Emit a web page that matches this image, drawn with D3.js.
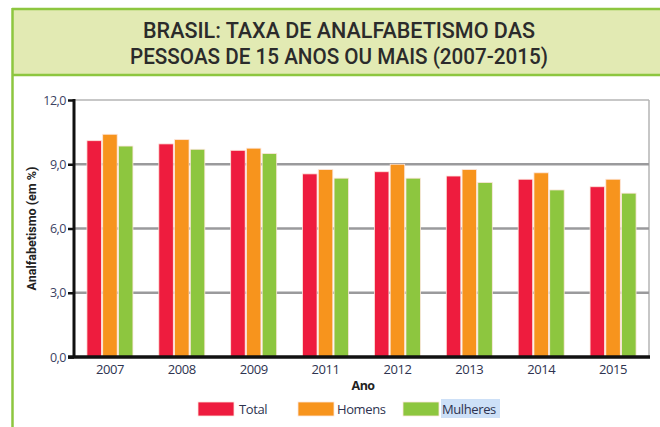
<!DOCTYPE html>
<html>
<head>
<meta charset="utf-8">
<script src="https://cdn.jsdelivr.net/npm/d3@7"></script>
<style>
  body { margin: 0; background: #fff; }
  svg { display: block; }
</style>
</head>
<body>
<script>
const years = ["2007", "2008", "2009", "2011", "2012", "2013", "2014", "2015"];
const total = [10.1, 9.95, 9.65, 8.55, 8.65, 8.45, 8.3, 7.95];
const homens = [10.4, 10.15, 9.75, 8.75, 9.0, 8.75, 8.6, 8.3];
const mulheres = [9.85, 9.7, 9.5, 8.35, 8.35, 8.15, 7.8, 7.65];
const yTicks = [0, 3, 6, 9, 12];
const seriesNames = ["Total", "Homens", "Mulheres"];
const colors = ["#ee1c3e", "#f7941d", "#8dc63f"];

const w = 660;
const h = 427;
const svg = d3.select("body").append("svg").attr("width", w).attr("height", h);

// header box
svg.append("rect").attr("x", 12).attr("y", 9).attr("width", w - 12).attr("height", 67)
  .attr("fill", "#e2eab3");
svg.append("line").attr("x1", 12).attr("x2", w).attr("y1", 9).attr("y2", 9)
  .attr("stroke", "#8dc63f").attr("stroke-width", 2.5);
svg.append("line").attr("x1", 12).attr("x2", w).attr("y1", 75).attr("y2", 75)
  .attr("stroke", "#8dc63f").attr("stroke-width", 2.5);
svg.append("line").attr("x1", 12.5).attr("x2", 12.5).attr("y1", 8).attr("y2", h)
  .attr("stroke", "#8dc63f").attr("stroke-width", 2.5);

const titleLines = ["BRASIL: TAXA DE ANALFABETISMO DAS", "PESSOAS DE 15 ANOS OU MAIS (2007-2015)"];
const titleWidths = [392, 418];
svg.append("g").selectAll("text").data(titleLines).enter().append("text")
  .attr("x", 339)
  .attr("y", (d, i) => 38 + i * 26)
  .attr("text-anchor", "middle")
  .attr("font-family", "Roboto, sans-serif")
  .attr("font-weight", 500)
  .attr("font-size", 22)
  .attr("textLength", (d, i) => titleWidths[i])
  .attr("lengthAdjust", "spacingAndGlyphs")
  .attr("fill", "#2b2b2b")
  .text((d) => d);

// scales
const pLeft = 74, pRight = 649, pTop = 100, pBottom = 357;
const x = d3.scaleBand().domain(years).range([pLeft, pRight]).paddingInner(0.36).paddingOuter(0.18);
const x1 = d3.scaleBand().domain(seriesNames).range([0, x.bandwidth()]).paddingInner(0.08);
const y = d3.scaleLinear().domain([0, 12]).range([pBottom, pTop]);

// frame
svg.append("line").attr("x1", pLeft).attr("x2", pRight).attr("y1", pTop).attr("y2", pTop)
  .attr("stroke", "#b5b5b5").attr("stroke-width", 1.5);
svg.append("line").attr("x1", pRight).attr("x2", pRight).attr("y1", pTop).attr("y2", pBottom)
  .attr("stroke", "#b5b5b5").attr("stroke-width", 1.5);

// grid
svg.append("g").selectAll("line").data(yTicks.filter((t) => t > 0 && t < 12)).enter().append("line")
  .attr("x1", pLeft).attr("x2", pRight)
  .attr("y1", (d) => y(d)).attr("y2", (d) => y(d))
  .attr("stroke", "#9a9a9c").attr("stroke-width", 2.5);

// bars
const rows = years.map((yr, i) => ({ year: yr, values: [total[i], homens[i], mulheres[i]] }));
svg.append("g").selectAll("g").data(rows).enter().append("g")
  .attr("transform", (d) => `translate(${x(d.year)},0)`)
  .selectAll("rect")
  .data((d) => d.values.map((v, j) => ({ name: seriesNames[j], value: v, color: colors[j] })))
  .enter().append("rect")
  .attr("x", (d) => x1(d.name))
  .attr("y", (d) => y(d.value))
  .attr("width", x1.bandwidth())
  .attr("height", (d) => pBottom - y(d.value))
  .attr("fill", (d) => d.color)
  .attr("stroke", "#fde6dc")
  .attr("stroke-width", 0.8);

// y axis
const yAxis = d3.axisLeft(y).tickValues(yTicks).tickSize(6).tickFormat((d) => d3.format(".1f")(d).replace(".", ","));
const gy = svg.append("g").attr("transform", `translate(${pLeft},0)`).call(yAxis);
gy.select(".domain").remove();
gy.selectAll(".tick line").attr("stroke", "#111").attr("stroke-width", 2.5);
gy.selectAll(".tick text")
  .attr("x", -8)
  .attr("font-family", "'Open Sans', sans-serif")
  .attr("font-size", 12.5)
  .attr("letter-spacing", -0.5)
  .attr("fill", "#3c4262");
svg.append("line").attr("x1", pLeft).attr("x2", pLeft).attr("y1", pTop - 1).attr("y2", pBottom)
  .attr("stroke", "#111").attr("stroke-width", 3);

// x axis
const xAxis = d3.axisBottom(x).tickSize(0).tickPadding(8);
const gx = svg.append("g").attr("transform", `translate(0,${pBottom})`).call(xAxis);
gx.select(".domain").remove();
gx.selectAll(".tick text")
  .attr("font-family", "'Open Sans', sans-serif")
  .attr("font-size", 13)
  .attr("letter-spacing", -0.4)
  .attr("fill", "#2e3350");
svg.append("line").attr("x1", 68).attr("x2", pRight + 1).attr("y1", pBottom).attr("y2", pBottom)
  .attr("stroke", "#111").attr("stroke-width", 3.5);

// axis titles
svg.append("text")
  .attr("transform", `translate(36,${(pTop + pBottom) / 2}) rotate(-90)`)
  .attr("text-anchor", "middle")
  .attr("font-family", "Roboto, sans-serif")
  .attr("font-weight", "bold")
  .attr("font-size", 12.5)
  .attr("fill", "#222")
  .text("Analfabetismo (em %)");
svg.append("text")
  .attr("x", 363).attr("y", 390)
  .attr("text-anchor", "middle")
  .attr("font-family", "'Open Sans', sans-serif")
  .attr("font-weight", "bold")
  .attr("font-size", 12.5)
  .attr("letter-spacing", -0.6)
  .attr("fill", "#222")
  .text("Ano");

// legend
const legendX = [198, 298, 403];
const lg = svg.append("g").selectAll("g").data(seriesNames).enter().append("g")
  .attr("transform", (d, i) => `translate(${legendX[i]},402)`);
lg.filter((d) => d === "Mulheres").append("rect")
  .attr("x", 38).attr("y", -3).attr("width", 59).attr("height", 19)
  .attr("fill", "#cde0f7");
lg.append("rect")
  .attr("width", 36).attr("height", 14)
  .attr("fill", (d, i) => colors[i])
  .attr("stroke", "#fde6dc").attr("stroke-width", 0.8);
lg.append("text")
  .attr("x", (d, i) => (i === 0 ? 41 : 39))
  .attr("y", 12)
  .attr("font-family", "'Open Sans', sans-serif")
  .attr("font-size", 13)
  .attr("letter-spacing", -0.4)
  .attr("fill", "#2e3350")
  .text((d) => d);
</script>
</body>
</html>
